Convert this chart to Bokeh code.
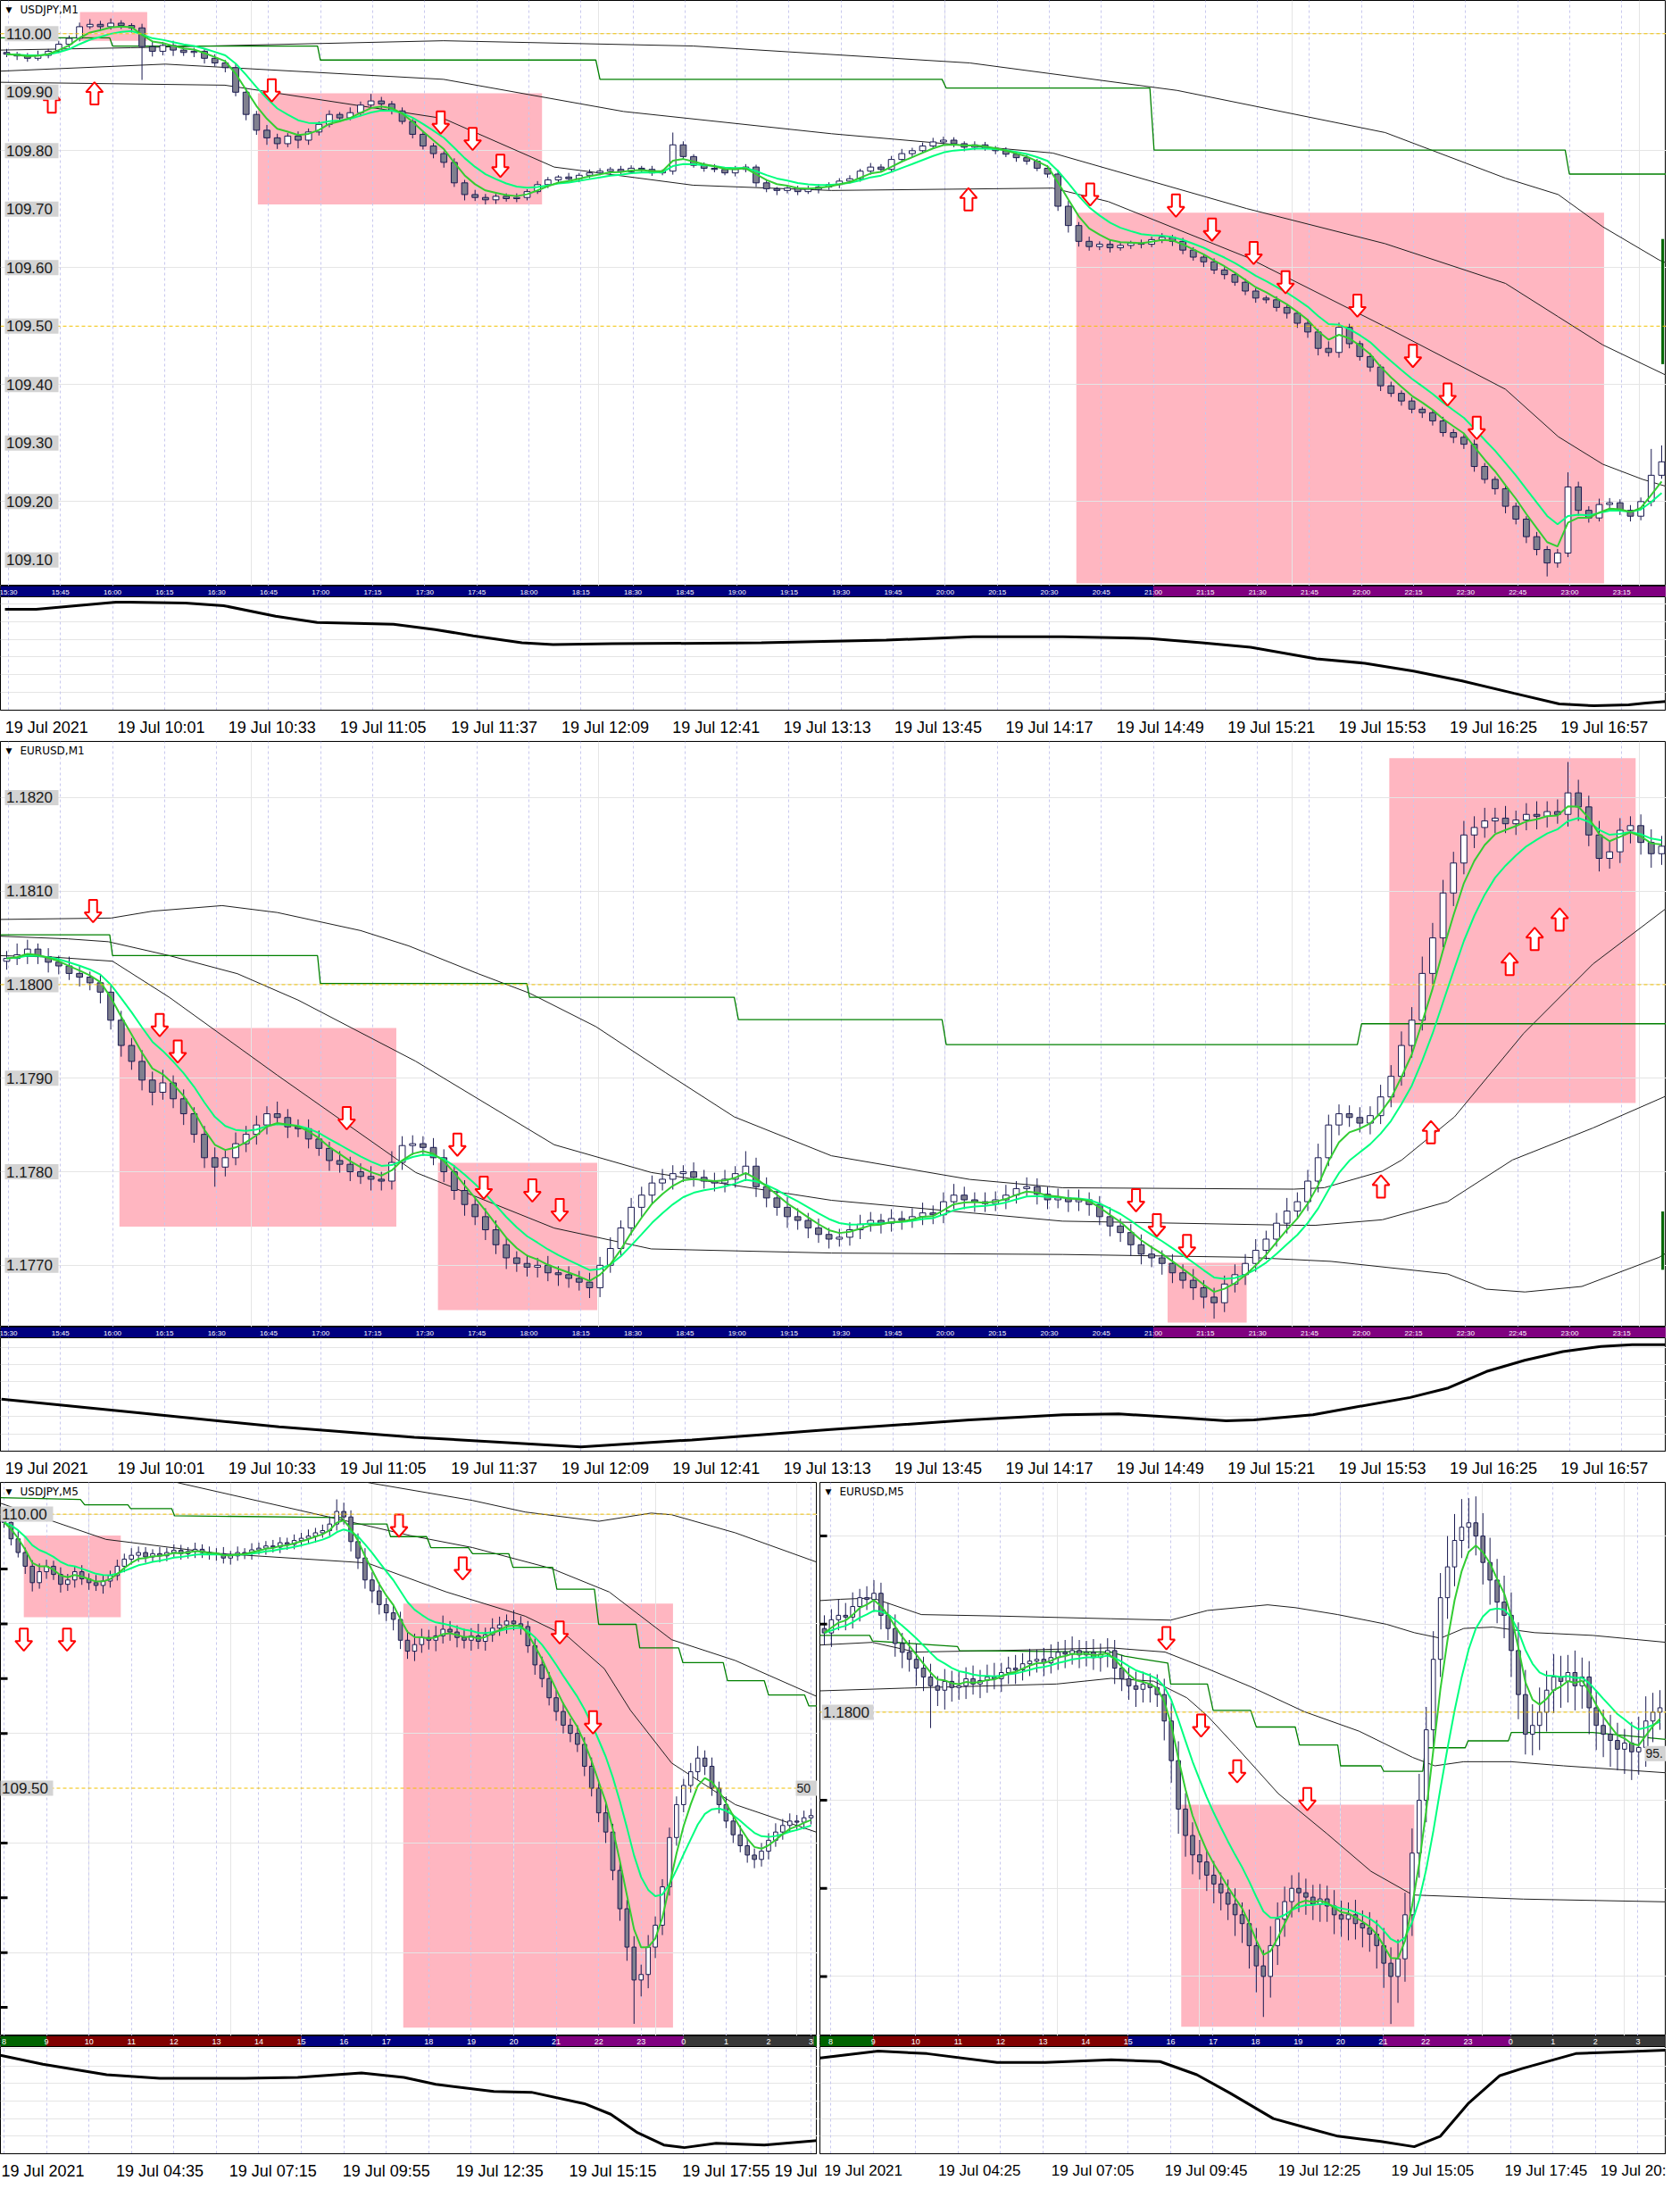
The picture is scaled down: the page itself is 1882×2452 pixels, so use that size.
import numpy as np
from bokeh.plotting import figure
from bokeh.models import Range1d, Span, FixedTicker, Grid
from bokeh.layouts import column, row
from bokeh.embed import file_html
from bokeh.resources import INLINE
from bokeh.core.properties import value

# ============================ DATA ============================
# x axis = minutes of the local session clock shown in the coloured strip

# ---- M1 charts (3-minute candles drawn) ----
m1_first_bar = 928
m1_bar_minutes = 3
m1_view = (927.7, 1407.8)
m1_grid_t = list(range(930, 1396, 15))
m1_strip_labels = ["15:30", "15:45", "16:00", "16:15", "16:30", "16:45", "17:00", "17:15",
                   "17:30", "17:45", "18:00", "18:15", "18:30", "18:45", "19:00", "19:15",
                   "19:30", "19:45", "20:00", "20:15", "20:30", "20:45", "21:00", "21:15",
                   "21:30", "21:45", "22:00", "22:15", "22:30", "22:45", "23:00", "23:15"]
m1_sess_start = [927.7, 1260]
m1_sess_end = [1260, 1407.8]
m1_sess_color = ["#000080", "#800080"]
m1_date_t = [929, 961, 993, 1025, 1057, 1089, 1121, 1153, 1185, 1217, 1249, 1281, 1313, 1345, 1377]
m1_date_labels = ["19 Jul 2021", "19 Jul 10:01", "19 Jul 10:33", "19 Jul 11:05", "19 Jul 11:37",
                  "19 Jul 12:09", "19 Jul 12:41", "19 Jul 13:13", "19 Jul 13:45", "19 Jul 14:17",
                  "19 Jul 14:49", "19 Jul 15:21", "19 Jul 15:53", "19 Jul 16:25", "19 Jul 16:57"]

# ---- USDJPY M1 (points of 0.001 above 109.000) ----
uj1_open0 = 968
uj1_close = [965, 962, 958, 963, 970, 982, 992, 1012, 1016, 1012,
             1018, 1014, 1010, 978, 970, 980, 972, 968, 970, 958,
             950, 942, 900, 862, 835, 822, 812, 825, 818, 832,
             845, 862, 856, 865, 878, 885, 880, 868, 850, 828,
             808, 795, 780, 745, 725, 720, 716, 722, 718, 720,
             730, 742, 750, 755, 752, 758, 762, 765, 768, 764,
             770, 768, 762, 765, 810, 790, 775, 770, 768, 762,
             768, 772, 745, 735, 732, 736, 730, 734, 738, 742,
             748, 752, 765, 772, 768, 785, 795, 800, 808, 815,
             818, 812, 806, 810, 804, 800, 794, 788, 782, 770,
             760, 705, 672, 645, 636, 640, 634, 638, 642, 640,
             648, 652, 645, 630, 618, 610, 596, 588, 575, 560,
             548, 545, 532, 522, 505, 490, 462, 455, 498, 470,
             448, 430, 398, 385, 372, 358, 352, 338, 318, 310,
             298, 260, 238, 222, 192, 170, 140, 118, 95, 112,
             225, 185, 172, 195, 198, 185, 175, 200, 245, 268]
uj1_hi_wick = [6, 4, 5, 8, 4, 6, 5, 7, 9, 6,
               8, 5, 4, 7, 10, 6, 8, 5, 6, 4,
               7, 5, 6, 8, 6, 9, 7, 5, 8, 6,
               5, 7, 4, 9, 6, 12, 7, 5, 6, 4,
               6, 5, 4, 7, 5, 8, 6, 4, 5, 7,
               4, 6, 5, 3, 7, 4, 6, 5, 4, 6,
               5, 4, 6, 3, 21, 6, 4, 5, 7, 4,
               6, 5, 4, 6, 3, 5, 4, 6, 5, 4,
               5, 6, 4, 7, 5, 6, 8, 5, 6, 7,
               6, 5, 4, 6, 5, 4, 6, 3, 5, 4,
               5, 7, 9, 6, 8, 5, 7, 6, 4, 6,
               5, 7, 4, 6, 5, 4, 6, 5, 4, 6,
               5, 4, 6, 5, 4, 7, 5, 12, 8, 6,
               5, 6, 4, 7, 5, 6, 4, 5, 7, 6,
               5, 8, 6, 5, 7, 6, 5, 8, 6, 7,
               25, 9, 7, 10, 8, 6, 9, 7, 45, 28]
uj1_lo_wick = [5, 7, 6, 4, 5, 3, 6, 5, 4, 7,
               5, 6, 8, 57, 9, 7, 10, 6, 8, 9,
               6, 8, 7, 10, 8, 12, 9, 6, 14, 8,
               6, 5, 7, 4, 6, 5, 8, 6, 5, 7,
               6, 8, 9, 7, 10, 6, 8, 7, 5, 6,
               5, 4, 6, 5, 4, 6, 5, 4, 6, 5,
               4, 6, 5, 4, 6, 5, 4, 6, 5, 4,
               6, 5, 7, 6, 8, 5, 6, 4, 7, 5,
               6, 4, 5, 6, 4, 5, 3, 6, 5, 4,
               5, 6, 7, 5, 4, 6, 5, 7, 6, 5,
               6, 8, 12, 9, 7, 6, 8, 5, 6, 7,
               5, 6, 8, 7, 6, 9, 7, 8, 6, 7,
               8, 6, 7, 9, 8, 10, 12, 7, 9, 8,
               7, 8, 9, 6, 8, 7, 9, 8, 7, 10,
               8, 9, 7, 10, 12, 9, 11, 10, 23, 8,
               7, 9, 8, 6, 10, 8, 9, 7, 8, 6]
uj1_levels = [110.00, 109.90, 109.80, 109.70, 109.60, 109.50, 109.40, 109.30, 109.20, 109.10]
uj1_level_text = ["110.00", "109.90", "109.80", "109.70", "109.60", "109.50", "109.40", "109.30", "109.20", "109.10"]
uj1_dashed = [110.00, 109.50]
uj1_line_a_t = [927.7, 965.2, 1055.4, 1127.3, 1207.1, 1266.9, 1326.8, 1361.5, 1376.7, 1389.5, 1405.8, 1407.8]
uj1_line_a_p = [109.972, 109.976, 109.988, 109.979, 109.950, 109.903, 109.831, 109.753, 109.725, 109.670, 109.613, 109.608]
uj1_line_b_t = [927.7, 975.2, 1055.4, 1107.3, 1167.2, 1231.0, 1286.9, 1326.8, 1361.5, 1376.7, 1389.5, 1407.8]
uj1_line_b_p = [109.936, 109.948, 109.922, 109.867, 109.829, 109.796, 109.701, 109.641, 109.573, 109.516, 109.468, 109.416]
uj1_line_c_t = [927.7, 992.4, 1055.4, 1087.3, 1127.3, 1167.2, 1231.0, 1247.0, 1286.9, 1326.8, 1361.5, 1376.7, 1389.5, 1401.0, 1407.8]
uj1_line_c_p = [109.917, 109.912, 109.855, 109.772, 109.741, 109.732, 109.736, 109.713, 109.618, 109.499, 109.392, 109.311, 109.264, 109.238, 109.226]
uj1_step_t = [927.7, 959.2, 960.0, 1019.1, 1019.9, 1099.3, 1100.5, 1199.1, 1200.3, 1259.0, 1260.2, 1378.7, 1379.9, 1407.8]
uj1_step_p = [109.993, 109.993, 109.979, 109.979, 109.955, 109.955, 109.922, 109.922, 109.907, 109.907, 109.801, 109.801, 109.760, 109.760]
uj1_box_l = [950.6, 1001.9, 1237.8]
uj1_box_r = [970.0, 1083.8, 1389.9]
uj1_box_top = [110.037, 109.898, 109.694]
uj1_box_bot = [109.988, 109.708, 109.060]
uj1_dn_t = [1005.9, 1054.6, 1063.8, 1071.8, 1241.8, 1266.5, 1276.9, 1288.9, 1298.1, 1318.8, 1334.8, 1344.8, 1353.2]
uj1_dn_p = [109.903, 109.848, 109.820, 109.774, 109.725, 109.706, 109.665, 109.625, 109.575, 109.535, 109.449, 109.383, 109.326]
uj1_up_t = [942.5, 954.8, 1206.7]
uj1_up_p = [109.884, 109.898, 109.717]
uj1_sub_t = [929, 938, 961, 965, 981, 992, 1007, 1019, 1041, 1053, 1064, 1078, 1087, 1104, 1147, 1183,
             1208, 1234, 1259, 1274, 1288, 1307, 1321, 1335, 1349, 1364, 1377, 1387, 1397, 1402, 1408]
uj1_sub_v = [114, 114, 122, 122, 121, 118, 106, 99, 97, 91, 84, 76, 74, 75, 76, 79,
             83, 83, 81, 76, 71, 58, 53, 44, 33, 19, 7, 5, 6, 8, 10]

# ---- EURUSD M1 (points of 0.00001 above 1.17000) ----
eu1_open0 = 1025
eu1_close = [1028, 1032, 1038, 1030, 1024, 1020, 1012, 1008, 1002, 992,
             962, 935, 918, 898, 885, 895, 878, 862, 840, 815,
             805, 815, 830, 840, 850, 862, 858, 848, 846, 835,
             825, 812, 808, 800, 795, 792, 790, 810, 828, 830,
             826, 815, 800, 780, 765, 752, 738, 722, 708, 702,
             698, 700, 692, 690, 686, 682, 676, 700, 718, 740,
             762, 775, 788, 792, 798, 800, 794, 790, 788, 792,
             798, 806, 784, 772, 762, 752, 748, 740, 733, 728,
             730, 738, 744, 748, 745, 750, 748, 752, 756, 754,
             768, 775, 770, 768, 766, 770, 775, 782, 784, 776,
             770, 772, 768, 770, 765, 752, 742, 735, 722, 712,
             708, 702, 692, 684, 676, 666, 660, 680, 690, 702,
             716, 728, 745, 758, 768, 790, 815, 850, 862, 858,
             852, 860, 880, 902, 935, 962, 1012, 1050, 1098, 1130,
             1160, 1168, 1175, 1178, 1172, 1176, 1182, 1180, 1185, 1182,
             1205, 1190, 1160, 1135, 1142, 1165, 1170, 1152, 1140, 1148]
eu1_hi_wick = [8, 12, 10, 6, 9, 7, 10, 8, 6, 9,
               7, 10, 8, 12, 9, 14, 8, 10, 7, 9,
               11, 8, 12, 9, 10, 8, 13, 9, 8, 10,
               9, 7, 10, 8, 9, 11, 8, 12, 10, 9,
               8, 10, 9, 7, 11, 8, 9, 10, 8, 7,
               9, 8, 10, 7, 9, 8, 10, 9, 12, 8,
               10, 9, 8, 11, 9, 7, 10, 8, 9, 10,
               8, 16, 9, 10, 8, 11, 9, 8, 10, 7,
               9, 8, 10, 9, 7, 10, 8, 9, 11, 8,
               10, 12, 9, 8, 10, 9, 11, 8, 10, 9,
               8, 10, 9, 11, 8, 9, 10, 8, 9, 11,
               9, 8, 10, 9, 12, 8, 10, 9, 11, 10,
               12, 9, 11, 14, 10, 12, 15, 11, 10, 9,
               11, 10, 13, 12, 15, 14, 18, 16, 14, 12,
               15, 12, 14, 11, 13, 10, 12, 14, 11, 13,
               33, 14, 12, 15, 11, 13, 10, 12, 14, 11]
eu1_lo_wick = [9, 7, 10, 8, 11, 9, 7, 10, 8, 12,
               10, 12, 9, 11, 14, 8, 10, 12, 9, 11,
               21, 10, 8, 9, 11, 10, 8, 12, 9, 10,
               8, 11, 9, 10, 8, 12, 10, 9, 8, 10,
               9, 8, 11, 10, 12, 9, 11, 10, 12, 9,
               10, 11, 9, 12, 10, 9, 11, 10, 8, 9,
               8, 10, 9, 8, 11, 9, 10, 8, 9, 10,
               9, 8, 11, 10, 9, 12, 10, 11, 9, 10,
               8, 9, 10, 8, 11, 9, 10, 8, 9, 10,
               9, 8, 10, 11, 9, 8, 10, 9, 8, 11,
               10, 9, 11, 10, 12, 9, 11, 10, 12, 11,
               10, 12, 11, 9, 13, 12, 17, 10, 9, 11,
               9, 10, 8, 11, 9, 10, 12, 9, 11, 10,
               10, 12, 9, 11, 10, 13, 11, 12, 10, 14,
               12, 14, 11, 13, 10, 12, 11, 14, 12, 10,
               13, 15, 12, 14, 11, 12, 14, 13, 15, 12]
eu1_levels = [1.1820, 1.1810, 1.1800, 1.1790, 1.1780, 1.1770]
eu1_level_text = ["1.1820", "1.1810", "1.1800", "1.1790", "1.1780", "1.1770"]
eu1_dashed = [1.1800]
eu1_line_t_t = [927.7, 959.6, 971.6, 991.6, 1007.5, 1031.5, 1045.4, 1065.4, 1080.2, 1099.3, 1119.3, 1139.2,
                1167.2, 1207.1, 1233.8, 1300.5, 1309.2, 1326.0, 1331.6, 1346.8, 1366.7, 1386.7, 1407.8]
eu1_line_t_p = [1.180697, 1.180712, 1.180786, 1.180845, 1.180771, 1.180578, 1.180414, 1.180117, 1.179909,
                1.179552, 1.179062, 1.178587, 1.178171, 1.177918, 1.177829, 1.177814, 1.177829, 1.178007,
                1.178126, 1.178587, 1.179478, 1.180221, 1.180815]
eu1_line_m_t = [927.7, 947.3, 958.8, 976.4, 996.0, 1013.5, 1047.4, 1087.3, 1115.3, 1167.2, 1233.8, 1300.5,
                1306.8, 1326.0, 1344.8, 1363.5, 1386.7, 1407.8]
eu1_line_m_p = [1.180518, 1.180489, 1.180459, 1.180310, 1.180117, 1.179835, 1.179181, 1.178289, 1.177992,
                1.177695, 1.177472, 1.177428, 1.177428, 1.177487, 1.177680, 1.178126, 1.178468, 1.178810]
eu1_line_l_t = [927.7, 942.5, 960.0, 976.4, 1007.5, 1047.4, 1087.3, 1115.3, 1167.2, 1233.8, 1286.9, 1311.2,
                1344.8, 1355.9, 1367.1, 1383.5, 1405.8, 1407.8]
eu1_line_l_p = [1.180310, 1.180295, 1.180251, 1.179864, 1.179032, 1.177992, 1.177398, 1.177175, 1.177131,
                1.177116, 1.177086, 1.177042, 1.176908, 1.176745, 1.176715, 1.176774, 1.177086, 1.177131]
eu1_step_t = [927.7, 959.2, 960.0, 1019.1, 1019.9, 1079.4, 1080.2, 1139.2, 1140.4, 1199.1, 1200.3, 1318.8, 1320.0, 1407.8]
eu1_step_p = [1.180533, 1.180533, 1.180310, 1.180310, 1.180013, 1.180013, 1.179864, 1.179864, 1.179627,
              1.179627, 1.179359, 1.179359, 1.179582, 1.179582]
eu1_box_l = [962.0, 1053.8, 1264.1, 1328.0]
eu1_box_r = [1041.8, 1099.7, 1286.9, 1399.0]
eu1_box_top = [1.179537, 1.178096, 1.177027, 1.182420]
eu1_box_bot = [1.177413, 1.176522, 1.176388, 1.178735]
eu1_dn_t = [954.4, 973.6, 978.8, 1027.5, 1059.4, 1067.0, 1081.0, 1088.9, 1255.0, 1261.0, 1269.7]
eu1_dn_p = [1.180786, 1.179567, 1.179285, 1.178572, 1.178289, 1.177829, 1.177799, 1.177591, 1.177695, 1.177428, 1.177205]
eu1_up_t = [1325.6, 1340.0, 1362.7, 1369.9, 1377.1]
eu1_up_p = [1.177844, 1.178423, 1.180221, 1.180489, 1.180697]
eu1_sub_t = [928, 968, 1008, 1047, 1095, 1127, 1167, 1207, 1234, 1250, 1267, 1281, 1289, 1306, 1317, 1334,
             1345, 1356, 1367, 1378, 1389, 1398, 1408]
eu1_sub_v = [60, 44, 28, 16, 5, 13, 25, 36, 42, 43, 39, 35, 36, 42, 50, 62, 73, 92, 105, 115, 121, 123, 123]

# ---- M5 charts (10-minute candles drawn) ----
m5_bar_minutes = 10
m5_grid_t = list(range(480, 1621, 60))
m5_strip_labels = ["8", "9", "10", "11", "12", "13", "14", "15", "16", "17", "18", "19", "20",
                   "21", "22", "23", "0", "1", "2", "3"]

# ---- USDJPY M5 ----
uj5_first_bar = 475
uj5_view = (475.0, 1628.75)
uj5_sess_start = [475, 540, 900, 1260, 1440, 1624]
uj5_sess_end = [540, 900, 1260, 1440, 1624, 1629]
uj5_sess_color = ["#006400", "#800000", "#000080", "#800080", "#383838", "#006400"]
uj5_date_t = [475, 635, 795, 955, 1115, 1275, 1435, 1595]
uj5_date_labels = ["19 Jul 2021", "19 Jul 04:35", "19 Jul 07:15", "19 Jul 09:55", "19 Jul 12:35",
                   "19 Jul 15:15", "19 Jul 17:55", "19 Jul"]
uj5_open0 = 1000
uj5_close = [985, 955, 930, 905, 875, 895, 905, 890, 872, 880,
             895, 882, 875, 870, 878, 888, 905, 918, 925, 930,
             922, 928, 924, 930, 934, 928, 932, 936, 930, 926,
             928, 920, 924, 930, 928, 935, 938, 942, 940, 948,
             945, 952, 956, 960, 966, 970, 982, 1005, 995, 950,
             920, 880, 860, 835, 820, 808, 770, 750, 762, 775,
             770, 778, 790, 785, 775, 770, 778, 768, 780, 792,
             798, 805, 800, 795, 760, 725, 700, 665, 640, 615,
             600, 580, 540, 500, 455, 420, 350, 280, 210, 150,
             160, 210, 250, 320, 410, 470, 505, 530, 555, 540,
             500, 470, 440, 415, 395, 378, 370, 385, 405, 420,
             432, 440, 438, 446, 450]
uj5_hi_wick = [12, 10, 14, 9, 11, 15, 12, 10, 13, 11,
               9, 12, 10, 14, 11, 9, 12, 10, 13, 11,
               10, 8, 12, 9, 11, 10, 8, 12, 9, 11,
               10, 12, 9, 11, 8, 12, 10, 9, 11, 10,
               9, 11, 10, 12, 9, 11, 14, 22, 16, 12,
               15, 18, 14, 16, 12, 15, 14, 18, 20, 16,
               14, 18, 25, 15, 12, 16, 14, 22, 13, 18,
               15, 12, 20, 14, 10, 13, 15, 12, 14, 16,
               12, 15, 13, 16, 14, 18, 15, 17, 16, 20,
               18, 22, 16, 14, 18, 15, 12, 16, 22, 14,
               16, 12, 15, 13, 17, 14, 12, 15, 13, 16,
               12, 14, 11, 13, 12]
uj5_lo_wick = [10, 12, 9, 14, 16, 11, 13, 10, 15, 12,
               14, 11, 13, 10, 15, 12, 9, 11, 10, 12,
               11, 9, 12, 10, 8, 11, 9, 12, 10, 9,
               11, 10, 12, 9, 10, 11, 9, 12, 10, 11,
               10, 9, 11, 10, 12, 9, 10, 12, 14, 18,
               20, 16, 22, 18, 15, 20, 16, 14, 18, 15,
               17, 20, 14, 16, 18, 15, 19, 14, 17, 13,
               14, 16, 12, 15, 13, 18, 16, 14, 17, 15,
               16, 14, 18, 15, 17, 20, 18, 22, 25, 80,
               30, 25, 20, 18, 16, 15, 14, 13, 15, 16,
               14, 16, 13, 15, 12, 14, 16, 13, 15, 12,
               14, 12, 15, 13, 12]
uj5_levels = [110.00, 109.50]
uj5_level_text = ["110.00", "109.50"]
uj5_dashed = [110.00, 109.50]
uj5_marks = [109.90, 109.80, 109.70, 109.60, 109.40, 109.30, 109.20, 109.10]
uj5_edge_p = [109.50]
uj5_edge_text = ["50"]
uj5_line_a_t = [475, 624, 786, 993, 1105, 1216, 1277, 1328, 1365, 1423, 1513, 1627]
uj5_line_a_p = [110.020, 109.954, 109.928, 109.911, 109.858, 109.814, 109.776, 109.718, 109.642, 109.546, 109.470, 109.420]
uj5_line_b_t = [592, 727, 942, 1054, 1142, 1253, 1335, 1423, 1513, 1627]
uj5_line_b_p = [110.108, 110.057, 109.994, 109.961, 109.939, 109.901, 109.858, 109.771, 109.733, 109.668]
uj5_line_c_t = [866, 997, 1142, 1216, 1320, 1394, 1423, 1513, 1627]
uj5_line_c_p = [110.096, 110.057, 110.025, 110.004, 109.987, 110.002, 109.999, 109.966, 109.913]
uj5_step_t = [475, 588, 594, 655, 659, 717, 721, 956, 964, 1021, 1026, 1077, 1083, 1136, 1142, 1193,
              1199, 1255, 1261, 1314, 1320, 1373, 1378, 1433, 1439, 1496, 1502, 1554, 1560, 1611, 1617, 1629]
uj5_step_p = [110.030, 110.027, 110.017, 110.017, 110.010, 110.010, 109.997, 109.994, 109.982, 109.982,
              109.959, 109.959, 109.939, 109.939, 109.928, 109.928, 109.903, 109.903, 109.863, 109.863,
              109.799, 109.799, 109.756, 109.756, 109.729, 109.729, 109.696, 109.696, 109.670, 109.670,
              109.650, 109.650]
uj5_box_l = [508, 1044]
uj5_box_r = [645, 1425]
uj5_box_top = [109.961, 109.837]
uj5_box_bot = [109.812, 109.063]
uj5_dn_t = [508, 569, 1038, 1128, 1265, 1312]
uj5_dn_p = [109.771, 109.771, 109.979, 109.901, 109.784, 109.620]
uj5_sub_t = [475, 535, 625, 700, 820, 895, 985, 1045, 1090, 1172, 1225, 1300, 1337, 1375, 1412, 1441, 1486, 1554, 1629]
uj5_sub_v = [112, 102, 90, 86, 86, 87, 92, 87, 79, 71, 70, 57, 45, 24, 10, 7, 12, 10, 15]

# ---- EURUSD M5 ----
eu5_first_bar = 466
eu5_view = (464.75, 1659.75)
eu5_sess_start = [464.75, 540, 900, 1260, 1440]
eu5_sess_end = [540, 900, 1260, 1440, 1659.75]
eu5_sess_color = ["#006400", "#800000", "#000080", "#800080", "#383838"]
eu5_date_t = [466, 625, 785, 945, 1105, 1265, 1425, 1585]
eu5_date_labels = ["19 Jul 2021", "19 Jul 04:25", "19 Jul 07:05", "19 Jul 09:45", "19 Jul 12:25",
                   "19 Jul 15:05", "19 Jul 17:45", "19 Jul 20:"]
eu5_open0 = 1095
eu5_close = [1090, 1105, 1110, 1108, 1120, 1130, 1128, 1135, 1110, 1095,
             1078, 1068, 1060, 1050, 1040, 1030, 1025, 1035, 1028, 1030,
             1038, 1032, 1036, 1040, 1038, 1045, 1050, 1048, 1055, 1058,
             1060, 1056, 1062, 1068, 1066, 1070, 1065, 1068, 1062, 1066,
             1070, 1050, 1038, 1030, 1026, 1032, 1028, 1020, 990, 945,
             890, 860, 838, 830, 815, 805, 795, 782, 770, 760,
             735, 712, 700, 735, 765, 785, 800, 795, 790, 782,
             788, 780, 770, 765, 770, 760, 755, 748, 735, 715,
             700, 720, 770, 840, 900, 980, 1060, 1130, 1165, 1195,
             1210, 1215, 1200, 1170, 1150, 1125, 1110, 1070, 1020, 975,
             985, 1000, 1025, 1040, 1035, 1045, 1030, 1040, 1005, 985,
             975, 968, 958, 965, 955, 960, 990, 1000, 1005]
eu5_hi_wick = [15, 12, 18, 14, 16, 10, 13, 15, 12, 14,
               16, 12, 14, 18, 13, 15, 11, 14, 12, 16,
               13, 15, 12, 14, 16, 11, 13, 15, 12, 14,
               11, 13, 15, 12, 14, 16, 12, 13, 15, 12,
               14, 12, 15, 13, 16, 14, 12, 15, 18, 20,
               22, 18, 15, 17, 14, 16, 13, 15, 18, 14,
               16, 20, 18, 22, 19, 17, 15, 18, 16, 14,
               17, 15, 18, 16, 14, 17, 15, 18, 16, 20,
               18, 22, 25, 28, 30, 26, 32, 28, 35, 30,
               32, 28, 30, 26, 28, 24, 30, 26, 32, 28,
               24, 28, 22, 26, 24, 20, 25, 22, 18, 20,
               18, 22, 20, 16, 24, 35, 28, 22, 20]
eu5_lo_wick = [14, 16, 12, 15, 13, 17, 12, 14, 16, 13,
               15, 18, 14, 20, 16, 48, 18, 22, 16, 14,
               15, 12, 16, 14, 12, 15, 13, 16, 12, 14,
               13, 15, 12, 14, 16, 12, 15, 13, 14, 16,
               15, 18, 14, 16, 20, 15, 17, 14, 22, 25,
               28, 24, 22, 20, 18, 22, 20, 18, 24, 22,
               26, 30, 46, 24, 22, 20, 18, 22, 20, 18,
               20, 18, 22, 20, 24, 18, 22, 20, 26, 28,
               54, 30, 26, 24, 28, 25, 22, 20, 24, 22,
               20, 24, 22, 25, 28, 24, 26, 30, 28, 23,
               24, 28, 22, 26, 30, 24, 28, 26, 30, 28,
               26, 30, 24, 28, 32, 26, 22, 24, 20]
eu5_levels = [1.1800]
eu5_level_text = ["1.1800"]
eu5_dashed = [1.1800]
eu5_marks = [1.1820, 1.1810, 1.1790, 1.1780, 1.1770]
eu5_edge_p = [1.17953]
eu5_edge_text = ["95."]
eu5_line_u_t = [463, 494, 539, 608, 715, 876, 960, 1012, 1097, 1136, 1196, 1265, 1304, 1341, 1374, 1415, 1474, 1556, 1660]
eu5_line_u_p = [1.181266, 1.181282, 1.181297, 1.181108, 1.181092, 1.181061, 1.181045, 1.181155, 1.181219, 1.181187,
                1.181108, 1.180998, 1.180903, 1.180840, 1.180951, 1.180966, 1.180903, 1.180872, 1.180793]
eu5_line_m_t = [463, 539, 600, 715, 876, 952, 1012, 1073, 1149, 1226, 1302, 1333, 1374, 1441, 1515, 1660]
eu5_line_m_p = [1.180762, 1.180793, 1.180683, 1.180699, 1.180730, 1.180683, 1.180494, 1.180289, 1.180005, 1.179785,
                1.179486, 1.179391, 1.179438, 1.179438, 1.179391, 1.179312]
eu5_line_l_t = [463, 584, 799, 876, 936, 983, 1012, 1052, 1112, 1181, 1243, 1302, 1458, 1660]
eu5_line_l_p = [1.180242, 1.180273, 1.180320, 1.180384, 1.180352, 1.180163, 1.179958, 1.179612, 1.179076, 1.178619,
                1.178193, 1.177925, 1.177878, 1.177847]
eu5_step_t = [463, 535, 539, 659, 662, 876, 895, 956, 960, 1012, 1020, 1073, 1081, 1136, 1142, 1196, 1200, 1257,
              1261, 1316, 1320, 1376, 1380, 1437, 1441, 1556, 1660]
eu5_step_p = [1.180872, 1.180872, 1.180809, 1.180746, 1.180699, 1.180683, 1.180636, 1.180557, 1.180320, 1.180320,
              1.180021, 1.180021, 1.179832, 1.179832, 1.179627, 1.179627, 1.179391, 1.179391, 1.179328, 1.179328,
              1.179596, 1.179596, 1.179675, 1.179675, 1.179769, 1.179769, 1.179690]
eu5_box_l = [975]
eu5_box_r = [1304]
eu5_box_top = [1.178950]
eu5_box_bot = [1.176429]
eu5_dn_t = [954, 1003, 1054, 1153]
eu5_dn_p = [1.180840, 1.179848, 1.179328, 1.179013]
eu5_sub_t = [465, 547, 616, 715, 783, 876, 945, 997, 1044, 1105, 1150, 1196, 1257, 1304, 1341, 1380, 1425, 1456,
             1532, 1593, 1660]
eu5_sub_v = [109, 117, 114, 104, 104, 107, 105, 90, 69, 40, 30, 20, 14, 8, 20, 57, 89, 97, 114, 116, 118]

# ============================ STYLE ============================
DARK = "#1A1A50"
BEAR = "#80808F"
PINK = "#FFB6C1"
GRIDC = "#C8C8EE"
GOLD = "#F2C200"
STEP = "#008000"
FAST = "#32CD32"
SLOW = "#00FF7F"
LABBG = "#D3D3D3"
# hollow block-arrow outline in screen pixels (x right, y down), for a down arrow
ARROW_PX_X = [-4.5, 4.5, 4.5, 9.5, 0.0, -9.5, -4.5]
ARROW_PX_Y = [-12.5, -12.5, 1.5, 1.5, 12.5, 1.5, 1.5]


def ema(vals, n):
    a = 2.0 / (n + 1)
    e = vals[0]
    out = []
    for v in vals:
        e = a * v + (1 - a) * e
        out.append(e)
    return np.array(out)


def make_ohlc(open0, closes, hiw, low, base, unit):
    n = min(len(closes), len(hiw), len(low))
    c = base + np.asarray(closes[:n], float) * unit
    o = np.concatenate([[base + open0 * unit], c[:-1]])
    h = np.maximum(o, c) + np.asarray(hiw[:n], float) * unit
    lo = np.minimum(o, c) - np.asarray(low[:n], float) * unit
    return o, h, lo, c


def arrow_shapes(ts, ps, kx, ky, down=True):
    sgn = 1.0 if down else -1.0
    xs, ys = [], []
    for t, pr in zip(ts, ps):
        xs.append([t + dx * kx for dx in ARROW_PX_X])
        ys.append([pr - sgn * dy * ky for dy in ARROW_PX_Y])
    return xs, ys


def build_panel(cfg, W, H, HS):
    xr, yr = cfg["xr"], cfg["yr"]
    kx = (xr[1] - xr[0]) / W
    ky = (yr[1] - yr[0]) / H
    x_range = Range1d(xr[0], xr[1])
    p = figure(width=W, height=H, x_range=x_range, y_range=Range1d(yr[0], yr[1]),
               output_backend="svg", toolbar_location=None,
               x_axis_location=None, y_axis_location=None, min_border=0)
    p.outline_line_color = "black"
    p.border_fill_color = "white"

    bl, br, bt, bb = cfg["boxes"]
    p.quad(left=bl, right=br, top=bt, bottom=bb, fill_color=PINK, line_color=None, level="underlay")
    p.add_layout(Grid(dimension=0, ticker=FixedTicker(ticks=cfg["grid"]),
                      grid_line_color=GRIDC, grid_line_dash="3 3", grid_line_width=1))
    for lv in cfg["dashed"]:
        p.add_layout(Span(location=lv, dimension="width", line_color=GOLD, line_dash="4 3", line_width=1))
    for lt, lp in cfg["lines"]:
        p.line(lt, lp, line_color="#1E1E1E", line_width=1)
    p.line(cfg["step"][0], cfg["step"][1], line_color=STEP, line_width=1.3)

    o, h, lo, c = make_ohlc(cfg["open0"], cfg["close"], cfg["hi"], cfg["lo"], cfg["base"], cfg["unit"])
    x = cfg["t0"] + cfg["bar"] * (np.arange(len(c)) + 0.5)
    p.segment(x0=x, y0=lo, x1=x, y1=h, line_color=DARK, line_width=1)
    fills = ["white" if cc >= oo else BEAR for oo, cc in zip(o, c)]
    p.vbar(x=x, width=cfg["bar"] * 0.58, top=np.maximum(o, c), bottom=np.minimum(o, c),
           fill_color=fills, line_color=DARK, line_width=1)
    p.line(x, ema(c, cfg["slow"]), line_color=SLOW, line_width=2)
    p.line(x, ema(c, cfg["fast"]), line_color=FAST, line_width=2)

    dt, dp = cfg["dn"]
    if len(dt):
        xs, ys = arrow_shapes(dt, dp, kx, ky, down=True)
        p.patches(xs, ys, fill_color="white", line_color="#FF0000", line_width=2)
    ut, up = cfg["up"]
    if len(ut):
        xs, ys = arrow_shapes(ut, up, kx, ky, down=False)
        p.patches(xs, ys, fill_color="white", line_color="#FF0000", line_width=2)

    if cfg.get("edge_bar"):
        bx, b0, b1 = cfg["edge_bar"]
        p.segment(x0=[bx], y0=[b0], x1=[bx], y1=[b1], line_color="#006400", line_width=3)

    if cfg.get("marks"):
        mk = cfg["marks"]
        p.scatter(x=[xr[0]] * len(mk), y=mk, marker="dash", size=16, line_color="black", line_width=3)

    lab_kw = dict(text_font=value("Liberation Sans"), text_font_size="17px", text_color="#1A1A1A",
                  text_align="left", text_baseline="middle", level="overlay")
    lv = np.asarray(cfg["levels"], float)
    a, b = cfg["lab_span"]
    p.quad(left=xr[0] + a * kx, right=xr[0] + b * kx, top=lv + 8.5 * ky, bottom=lv - 8.5 * ky,
           fill_color=LABBG, line_color=None, level="overlay")
    p.text(x=[xr[0] + (a + 1.5) * kx] * len(lv), y=lv, text=cfg["level_text"], **lab_kw)
    if cfg.get("edge_p"):
        ep = np.asarray(cfg["edge_p"], float)
        p.quad(left=xr[1] - 24 * kx, right=xr[1], top=ep + 8.5 * ky, bottom=ep - 8.5 * ky,
               fill_color=LABBG, line_color=None, level="overlay")
        edge_kw = dict(lab_kw)
        edge_kw["text_font_size"] = "14px"
        p.text(x=[xr[1] - 23 * kx] * len(ep), y=ep, text=cfg["edge_text"], **edge_kw)

    ty = yr[1] - 10 * ky
    p.text(x=[xr[0] + 6 * kx], y=[ty], text=["\u25bc"], text_font=value("DejaVu Sans"),
           text_font_size="9px", text_color="black", text_align="left", text_baseline="middle", level="overlay")
    p.text(x=[xr[0] + 22 * kx], y=[ty], text=[cfg["title"]], text_font=value("DejaVu Sans"),
           text_font_size="12px", text_color="black", text_align="left", text_baseline="middle", level="overlay")

    # time strip
    st = figure(width=W, height=12, x_range=x_range, y_range=Range1d(0, 1),
                output_backend="svg", toolbar_location=None,
                x_axis_location=None, y_axis_location=None, min_border=0)
    st.outline_line_color = "black"
    ss, se, sc = cfg["sessions"]
    st.quad(left=ss, right=se, top=1, bottom=0, fill_color=sc, line_color=None)
    st.text(x=cfg["strip_t"], y=[0.45] * len(cfg["strip_t"]), text=cfg["strip_labels"],
            text_color="white", text_font_size=cfg["strip_fs"], text_align="center",
            text_baseline="middle", text_font=value("Liberation Sans"))

    # indicator sub-window with the date axis
    s = figure(frame_width=W, frame_height=HS, x_range=x_range, y_range=Range1d(*cfg["sub_yr"]),
               output_backend="svg", toolbar_location=None, y_axis_location=None, min_border=0)
    s.outline_line_color = "black"
    s.border_fill_color = "white"
    s.xgrid.grid_line_color = None
    s.add_layout(Grid(dimension=0, ticker=FixedTicker(ticks=cfg["grid"]),
                      grid_line_color=GRIDC, grid_line_dash="3 3", grid_line_width=1))
    s.line(cfg["sub_t"], cfg["sub_v"], line_color="black", line_width=3)
    ppm = W / (xr[1] - xr[0])
    ticks = [int(round(t + len(lb) * 4.3 / ppm)) for t, lb in zip(cfg["date_t"], cfg["date_labels"])]
    s.xaxis.ticker = FixedTicker(ticks=ticks)
    s.xaxis.major_label_overrides = {tk: lb for tk, lb in zip(ticks, cfg["date_labels"])}
    s.xaxis.major_tick_line_color = None
    s.xaxis.minor_tick_line_color = None
    s.xaxis.axis_line_color = "black"
    s.xaxis.major_label_text_font = "Liberation Sans"
    s.xaxis.major_label_text_font_size = cfg["date_fs"]
    s.xaxis.major_label_text_color = "black"
    s.xaxis.major_label_standoff = 3
    return column(p, st, s, spacing=0)


uj1 = dict(xr=m1_view, yr=(109.0555, 110.0569), sub_yr=(0, 128), title="USDJPY,M1",
           t0=m1_first_bar, bar=m1_bar_minutes, open0=uj1_open0, close=uj1_close, hi=uj1_hi_wick, lo=uj1_lo_wick,
           base=109.0, unit=0.001, fast=4, slow=8,
           lines=[(uj1_line_a_t, uj1_line_a_p), (uj1_line_b_t, uj1_line_b_p), (uj1_line_c_t, uj1_line_c_p)],
           step=(uj1_step_t, uj1_step_p), boxes=(uj1_box_l, uj1_box_r, uj1_box_top, uj1_box_bot),
           dn=(uj1_dn_t, uj1_dn_p), up=(uj1_up_t, uj1_up_p),
           levels=uj1_levels, level_text=uj1_level_text, lab_span=(5, 65), dashed=uj1_dashed,
           edge_bar=(1406.8, 109.435, 109.649), grid=m1_grid_t,
           sessions=(m1_sess_start, m1_sess_end, m1_sess_color), strip_t=m1_grid_t,
           strip_labels=m1_strip_labels, strip_fs="8px", sub_t=uj1_sub_t, sub_v=uj1_sub_v,
           date_t=m1_date_t, date_labels=m1_date_labels, date_fs="18px")

eu1 = dict(xr=m1_view, yr=(1.17634, 1.18260), sub_yr=(0, 131), title="EURUSD,M1",
           t0=m1_first_bar, bar=m1_bar_minutes, open0=eu1_open0, close=eu1_close, hi=eu1_hi_wick, lo=eu1_lo_wick,
           base=1.17, unit=0.00001, fast=4, slow=8,
           lines=[(eu1_line_t_t, eu1_line_t_p), (eu1_line_m_t, eu1_line_m_p), (eu1_line_l_t, eu1_line_l_p)],
           step=(eu1_step_t, eu1_step_p), boxes=(eu1_box_l, eu1_box_r, eu1_box_top, eu1_box_bot),
           dn=(eu1_dn_t, eu1_dn_p), up=(eu1_up_t, eu1_up_p),
           levels=eu1_levels, level_text=eu1_level_text, lab_span=(5, 65), dashed=eu1_dashed,
           edge_bar=(1406.8, 1.176952, 1.177576), grid=m1_grid_t,
           sessions=(m1_sess_start, m1_sess_end, m1_sess_color), strip_t=m1_grid_t,
           strip_labels=m1_strip_labels, strip_fs="8px", sub_t=eu1_sub_t, sub_v=eu1_sub_v,
           date_t=m1_date_t, date_labels=m1_date_labels, date_fs="18px")

uj5 = dict(xr=uj5_view, yr=(109.048, 110.058), sub_yr=(0, 122), title="USDJPY,M5",
           t0=uj5_first_bar, bar=m5_bar_minutes, open0=uj5_open0, close=uj5_close, hi=uj5_hi_wick, lo=uj5_lo_wick,
           base=109.0, unit=0.001, fast=4, slow=10,
           lines=[(uj5_line_a_t, uj5_line_a_p), (uj5_line_b_t, uj5_line_b_p), (uj5_line_c_t, uj5_line_c_p)],
           step=(uj5_step_t, uj5_step_p), boxes=(uj5_box_l, uj5_box_r, uj5_box_top, uj5_box_bot),
           dn=(uj5_dn_t, uj5_dn_p), up=([], []),
           levels=uj5_levels, level_text=uj5_level_text, lab_span=(0, 59), dashed=uj5_dashed,
           marks=uj5_marks, edge_p=uj5_edge_p, edge_text=uj5_edge_text, grid=m5_grid_t,
           sessions=(uj5_sess_start, uj5_sess_end, uj5_sess_color), strip_t=m5_grid_t,
           strip_labels=m5_strip_labels, strip_fs="9px", sub_t=uj5_sub_t, sub_v=uj5_sub_v,
           date_t=uj5_date_t, date_labels=uj5_date_labels, date_fs="18px")

eu5 = dict(xr=eu5_view, yr=(1.176325, 1.182609), sub_yr=(0, 122), title="EURUSD,M5",
           t0=eu5_first_bar, bar=m5_bar_minutes, open0=eu5_open0, close=eu5_close, hi=eu5_hi_wick, lo=eu5_lo_wick,
           base=1.17, unit=0.00001, fast=4, slow=10,
           lines=[(eu5_line_u_t, eu5_line_u_p), (eu5_line_m_t, eu5_line_m_p), (eu5_line_l_t, eu5_line_l_p)],
           step=(eu5_step_t, eu5_step_p), boxes=(eu5_box_l, eu5_box_r, eu5_box_top, eu5_box_bot),
           dn=(eu5_dn_t, eu5_dn_p), up=([], []),
           levels=eu5_levels, level_text=eu5_level_text, lab_span=(2, 60), dashed=eu5_dashed,
           marks=eu5_marks, edge_p=eu5_edge_p, edge_text=eu5_edge_text, grid=m5_grid_t,
           sessions=(eu5_sess_start, eu5_sess_end, eu5_sess_color), strip_t=m5_grid_t,
           strip_labels=m5_strip_labels, strip_fs="9px", sub_t=eu5_sub_t, sub_v=eu5_sub_v,
           date_t=eu5_date_t, date_labels=eu5_date_labels, date_fs="17px")

panel1 = build_panel(uj1, 1866, 656, 127)
panel2 = build_panel(eu1, 1866, 656, 127)
panel3 = build_panel(uj5, 915, 620, 120)
panel4 = build_panel(eu5, 948, 620, 120)

layout = column(panel1, panel2, row(panel3, panel4, spacing=3), spacing=3)
open("out.html", "w").write(file_html(layout, INLINE))
